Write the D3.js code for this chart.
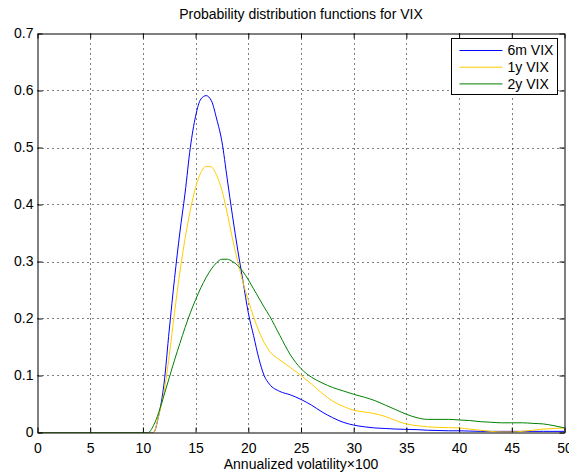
<!DOCTYPE html>
<html>
<head>
<meta charset="utf-8">
<script src="https://cdn.jsdelivr.net/npm/d3@7"></script>
<style>
  html, body { margin: 0; padding: 0; background: #fff; }
  svg { display: block; }
  text { font-family: "Liberation Sans", Arial, Helvetica, sans-serif; fill: #000; }
</style>
</head>
<body>
<svg id="chart" width="569" height="472"></svg>
<script>
// Annualized volatility grid (x values)
const volatility = [0, 10, 10.5, 11, 11.5, 12, 12.5, 13, 13.5, 14, 14.5, 15, 15.5, 16, 16.5, 17, 17.5, 18, 18.5, 19, 19.5, 20, 20.5, 21, 21.5, 22,
  23, 24, 25, 26, 27, 28, 29, 30, 31, 32, 33, 34, 35, 36, 37, 38, 39, 40, 41, 42, 43, 44, 45, 46, 47, 48, 49, 50];

// Estimated densities for each horizon
const vix6m = [0, 0, 0, 0, 0.03, 0.085, 0.18, 0.27, 0.35, 0.42, 0.50, 0.555, 0.585, 0.591, 0.582, 0.55, 0.51, 0.445, 0.38, 0.32, 0.265, 0.21, 0.17, 0.13, 0.10, 0.085,
  0.072, 0.066, 0.058, 0.048, 0.036, 0.026, 0.018, 0.013, 0.010, 0.008, 0.007, 0.006, 0.0055, 0.005, 0.004, 0.0035, 0.003, 0.003, 0.0025, 0.002, 0.002, 0.002, 0.002, 0.002, 0.002, 0.002, 0.002, 0.002];
const vix1y = [0, 0, 0, 0, 0.03, 0.07, 0.135, 0.21, 0.28, 0.34, 0.39, 0.43, 0.456, 0.467, 0.466, 0.451, 0.425, 0.385, 0.34, 0.30, 0.263, 0.232, 0.203, 0.178, 0.158, 0.143,
  0.127, 0.114, 0.10, 0.085, 0.069, 0.055, 0.046, 0.039, 0.036, 0.033, 0.028, 0.021, 0.015, 0.012, 0.010, 0.009, 0.0085, 0.008, 0.006, 0.004, 0.002, 0.001, 0.001, 0.002, 0.004, 0.006, 0.007, 0.008];
const vix2y = [0, 0, 0, 0.012, 0.035, 0.065, 0.096, 0.127, 0.156, 0.184, 0.21, 0.233, 0.254, 0.272, 0.287, 0.298, 0.304, 0.304, 0.300, 0.293, 0.282, 0.268, 0.252, 0.236, 0.22, 0.205,
  0.17, 0.136, 0.112, 0.097, 0.087, 0.079, 0.073, 0.067, 0.062, 0.056, 0.048, 0.040, 0.032, 0.026, 0.023, 0.023, 0.023, 0.022, 0.021, 0.019, 0.018, 0.017, 0.017, 0.017, 0.016, 0.015, 0.012, 0.008];

const seriesNames = ["6m VIX", "1y VIX", "2y VIX"];
const seriesColors = ["#0000ff", "#ffcc00", "#008000"];
const xTicks = [0, 5, 10, 15, 20, 25, 30, 35, 40, 45, 50];
const yTicks = [0, 0.1, 0.2, 0.3, 0.4, 0.5, 0.6, 0.7];
const titleText = "Probability distribution functions for VIX";
const xLabelText = "Annualized volatility×100";

const svg = d3.select("#chart");
const plotLeft = 37.5, plotRight = 564.5, plotTop = 33.5, plotBottom = 432.5;
const fontSize = 14;

const x = d3.scaleLinear().domain([0, 50]).range([plotLeft, plotRight]);
const y = d3.scaleLinear().domain([0, 0.7]).range([plotBottom, plotTop]);

// Dotted grid
const grid = svg.append("g");
grid.selectAll("line.vx").data(xTicks.slice(1, -1)).join("line")
  .attr("x1", d => Math.round(x(d)) + 0.5).attr("x2", d => Math.round(x(d)) + 0.5)
  .attr("y1", plotTop).attr("y2", plotBottom)
  .attr("stroke", "#000").attr("stroke-width", 1).attr("stroke-dasharray", "1,4");
grid.selectAll("line.hy").data(yTicks.slice(1, -1)).join("line")
  .attr("y1", d => Math.round(y(d)) + 0.5).attr("y2", d => Math.round(y(d)) + 0.5)
  .attr("x1", plotLeft).attr("x2", plotRight)
  .attr("stroke", "#000").attr("stroke-width", 1).attr("stroke-dasharray", "1,4");

// Curves
const series = [vix6m, vix1y, vix2y];
const line = d3.line()
  .x((d, i) => x(volatility[i]))
  .y(d => y(d))
  .curve(d3.curveMonotoneX);

svg.append("defs").append("clipPath").attr("id", "plotClip")
  .append("rect").attr("x", plotLeft).attr("y", plotTop).attr("width", plotRight - plotLeft).attr("height", plotBottom - plotTop);

const curves = svg.append("g").attr("clip-path", "url(#plotClip)");
series.forEach((vals, k) => {
  curves.append("path")
    .datum(vals)
    .attr("d", line)
    .attr("fill", "none")
    .attr("stroke", seriesColors[k])
    .attr("stroke-width", 1);
});

// Axes with inward ticks on all four sides
const tickLen = 5;
const axisBottom = d3.axisBottom(x).tickValues(xTicks).tickSizeInner(-tickLen).tickSizeOuter(0).tickPadding(11).tickFormat(d3.format("d"));
const axisTop = d3.axisTop(x).tickValues(xTicks).tickSizeInner(-tickLen).tickSizeOuter(0).tickFormat("");
const axisLeft = d3.axisLeft(y).tickValues(yTicks).tickSizeInner(-tickLen).tickSizeOuter(0).tickPadding(4)
  .tickFormat(d => d === 0 ? "0" : d3.format(".1f")(d));
const axisRight = d3.axisRight(y).tickValues(yTicks).tickSizeInner(-tickLen).tickSizeOuter(0).tickFormat("");

function styleAxis(g) {
  g.select(".domain").attr("stroke", "#000");
  g.selectAll(".tick line").attr("stroke", "#000");
  g.selectAll(".tick text").attr("font-size", fontSize).attr("fill", "#000")
    .attr("font-family", "'Liberation Sans', Arial, Helvetica, sans-serif");
}

svg.append("g").attr("transform", `translate(0,${plotBottom})`).call(axisBottom).call(styleAxis);
svg.append("g").attr("transform", `translate(0,${plotTop})`).call(axisTop).call(styleAxis);
svg.append("g").attr("transform", `translate(${plotLeft},0)`).call(axisLeft).call(styleAxis);
svg.append("g").attr("transform", `translate(${plotRight},0)`).call(axisRight).call(styleAxis);

// Title and axis label
svg.append("text").attr("x", (plotLeft + plotRight) / 2).attr("y", 19)
  .attr("text-anchor", "middle").attr("font-size", fontSize).text(titleText);
svg.append("text").attr("x", (plotLeft + plotRight) / 2).attr("y", 469)
  .attr("text-anchor", "middle").attr("font-size", fontSize).text(xLabelText);

// Legend
const legend = svg.append("g");
const lgX = 451.5, lgY = 38.5, lgW = 106, lgH = 56;
legend.append("rect").attr("x", lgX).attr("y", lgY).attr("width", lgW).attr("height", lgH)
  .attr("fill", "#fff").attr("stroke", "#000").attr("stroke-width", 1);
seriesNames.forEach((name, k) => {
  const yy = lgY + 12 + k * 16.7;
  legend.append("line").attr("x1", lgX + 8).attr("x2", lgX + 51).attr("y1", yy).attr("y2", yy)
    .attr("stroke", seriesColors[k]).attr("stroke-width", 1);
  legend.append("text").attr("x", lgX + 56).attr("y", yy).attr("dy", "0.35em")
    .attr("font-size", fontSize).text(name);
});
</script>
</body>
</html>
